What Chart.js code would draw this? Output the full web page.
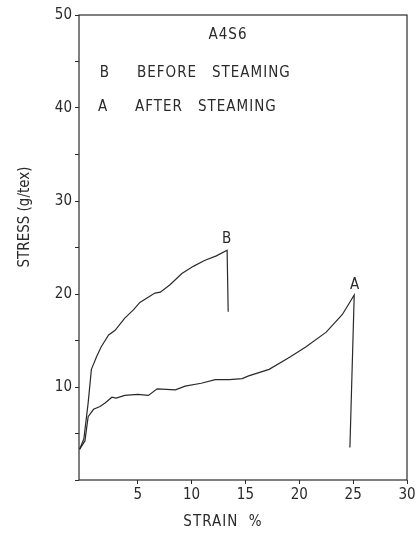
<!DOCTYPE html>
<html>
<head>
<meta charset="utf-8">
<script src="https://cdn.jsdelivr.net/npm/chart.js@4/dist/chart.umd.min.js"></script>
<style>
  html, body { margin: 0; padding: 0; background: #fff; }
</style>
</head>
<body>
<canvas id="myChart" width="419" height="541"></canvas>
<script>
// curve B - before steaming
var strainB = [-0.4, 0, 0.4, 0.7, 1.2, 1.6, 2.3, 2.9, 3.8, 4.6, 5.2, 6.6, 7.1, 8.0, 9.1, 10.2, 11.2, 12.3, 13.3, 13.4];
var stressB = [3.3, 4.4, 8.3, 11.9, 13.3, 14.3, 15.6, 16.1, 17.4, 18.3, 19.1, 20.1, 20.2, 21.0, 22.2, 23.0, 23.6, 24.1, 24.7, 18.1];
// curve A - after steaming
var strainA = [-0.4, 0.1, 0.4, 0.9, 1.5, 2.0, 2.6, 3.0, 3.8, 5.0, 6.0, 6.8, 8.5, 9.4, 10.9, 12.2, 13.5, 14.7, 15.3, 17.2, 19.1, 20.6, 22.5, 24.0, 25.1, 24.7];
var stressA = [3.3, 4.2, 6.8, 7.6, 7.9, 8.3, 8.9, 8.8, 9.1, 9.2, 9.1, 9.8, 9.7, 10.1, 10.4, 10.8, 10.8, 10.9, 11.2, 11.9, 13.2, 14.3, 15.9, 17.8, 19.9, 3.5];
var xTicks = [5, 10, 15, 20, 25, 30];
var yLabels = [10, 20, 30, 40, 50];

var ink = '#2a2a2a';
var textFont = "'DejaVu Sans Condensed', 'Liberation Sans Narrow', 'DejaVu Sans', sans-serif";

function toPoints(xs, ys) {
    var pts = [];
    for (var i = 0; i < xs.length; i++) pts.push({x: xs[i], y: ys[i]});
    return pts;
}

function peakIndex(ys) {
    var k = 0;
    for (var i = 1; i < ys.length; i++) if (ys[i] > ys[k]) k = i;
    return k;
}

// box, legend text, peak letters and axis titles
var textPlugin = {
    id: 'paperText',
    afterDraw: function(chart) {
        var ctx = chart.ctx, a = chart.chartArea;
        var xs = chart.scales.x, ys = chart.scales.y;
        ctx.save();
        ctx.strokeStyle = ink;
        ctx.lineWidth = 1.2;
        ctx.strokeRect(a.left, a.top, a.right - a.left, a.bottom - a.top);

        ctx.fillStyle = ink;
        ctx.textBaseline = 'middle';
        ctx.font = '15px ' + textFont;
        ctx.letterSpacing = '1px';

        ctx.textAlign = 'center';
        ctx.fillText('A4S6', 228, 35);
        ctx.fillText('B', 105, 73);
        ctx.fillText('A', 103, 107);
        ctx.textAlign = 'left';
        ctx.fillText('BEFORE', 137, 73);
        ctx.fillText('STEAMING', 212, 73);
        ctx.fillText('AFTER', 135, 107);
        ctx.fillText('STEAMING', 198, 107);

        // peak letters
        ctx.textAlign = 'center';
        var kb = peakIndex(stressB), ka = peakIndex(stressA);
        ctx.fillText('B', xs.getPixelForValue(strainB[kb]), ys.getPixelForValue(stressB[kb]) - 11);
        ctx.fillText('A', xs.getPixelForValue(strainA[ka]) + 1, ys.getPixelForValue(stressA[ka]) - 10);

        // axis titles
        ctx.fillText('STRAIN  %', 223, 522);
        ctx.letterSpacing = '0px';
        ctx.translate(25, 217);
        ctx.rotate(-Math.PI / 2);
        ctx.fillText('STRESS (g/tex)', 0, 0);
        ctx.restore();
    }
};

var graph = new Chart(document.getElementById('myChart'), {
    type: 'scatter',
    data: {
        datasets: [
            {
                label: 'B  BEFORE STEAMING',
                data: toPoints(strainB, stressB),
                showLine: true,
                borderColor: ink,
                borderWidth: 1.2,
                pointRadius: 0,
                tension: 0
            },
            {
                label: 'A  AFTER STEAMING',
                data: toPoints(strainA, stressA),
                showLine: true,
                borderColor: ink,
                borderWidth: 1.2,
                pointRadius: 0,
                tension: 0
            }
        ]
    },
    options: {
        responsive: false,
        animation: false,
        devicePixelRatio: 1,
        layout: { padding: { left: 0, top: 15, right: 12, bottom: 0 } },
        plugins: {
            legend: { display: false },
            tooltip: { enabled: false }
        },
        scales: {
            x: {
                type: 'linear',
                min: -0.45,
                max: 30,
                afterBuildTicks: function(scale) {
                    scale.ticks = xTicks.map(function(v) { return {value: v}; });
                },
                afterFit: function(scale) { scale.height = 61; },
                grid: { drawOnChartArea: false, drawTicks: true, tickLength: 4, color: ink },
                border: { display: false },
                ticks: {
                    color: ink,
                    padding: 2,
                    maxRotation: 0,
                    font: { family: textFont, size: 15 }
                }
            },
            y: {
                min: 0,
                max: 50,
                afterFit: function(scale) { scale.width = 79; },
                grid: { drawOnChartArea: false, drawTicks: true, tickLength: 4, color: ink },
                border: { display: false },
                ticks: {
                    stepSize: 5,
                    color: ink,
                    padding: 3,
                    font: { family: textFont, size: 15 },
                    callback: function(v) { return yLabels.indexOf(v) >= 0 ? v : ''; }
                }
            }
        }
    },
    plugins: [textPlugin]
});
</script>
</body>
</html>
